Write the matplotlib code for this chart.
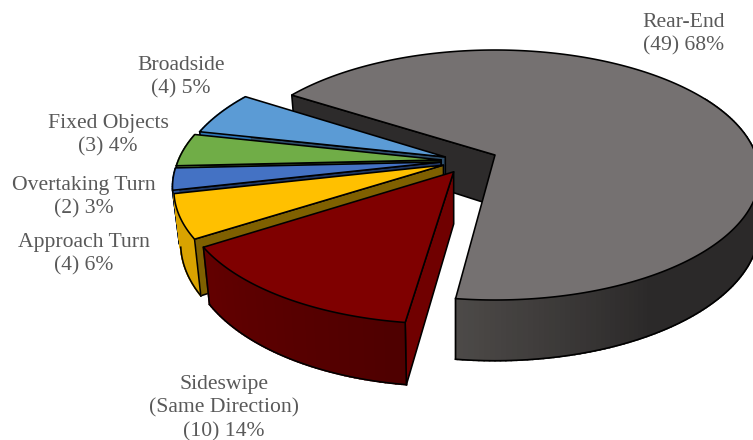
import numpy as np
import matplotlib
matplotlib.use("Agg")
import matplotlib.pyplot as plt
from matplotlib.colors import to_rgb

# ---- data, in drawing order round the pie (clockwise)
categories = ["Rear-End", "Sideswipe\n(Same Direction)", "Approach Turn",
              "Overtaking Turn", "Fixed Objects", "Broadside"]
counts = [49, 10, 4, 2, 3, 4]
percents = [68, 14, 6, 3, 4, 5]

# ---- styling
top_colors = ["#757171", "#7F0000", "#FFC000", "#4472C4", "#70AD47", "#5B9BD5"]
edge_colors = ["#2D2B2B", "#700000", "#7F6000", "#203864", "#385723", "#2E4E6B"]
wall_near = ["#4D4A48", "#4E0000", "#D9A300", "#2F5597", "#548235", "#2E75B6"]
wall_far = ["#2B2929", "#630000", "#D9A300", "#2F5597", "#548235", "#2E75B6"]
wall_span = [38, 50, 1, 1, 1, 1]

# ---- layout (pixel space of the projection)
CX, CY = 495.0, 155.0
SCALE_X, SCALE_Y, PERSP = 261.0, 121.8, 0.16
DEPTH = 51.0
START_ANGLE = -57.7
offsets = [(0.0, 0.0), (-0.155, -0.135), (-0.195, -0.082),
           (-0.205, -0.057), (-0.205, -0.04), (-0.19, -0.016)]
label_pos = [(684, 34), (224, 408), (84, 254), (84, 197), (108, 135), (181, 77)]
draw_order = [0, 5, 4, 3, 2, 1]


def project(X, Y, down=False):
    X, Y = np.asarray(X, float), np.asarray(Y, float)
    s = 1.0 / (1.0 + PERSP * Y)
    px = CX + X * SCALE_X * s
    py = CY - Y * SCALE_Y * s
    if down:
        px = px + 0.024 * np.maximum(0.0, 456.0 - px)
        py = py + DEPTH * s
    return px, py


def rim(theta_deg, off):
    t = np.radians(theta_deg)
    return np.sin(t) + off[0], np.cos(t) + off[1]


fig = plt.figure(figsize=(7.53, 4.40), dpi=100)
ax = fig.add_axes([0, 0, 1, 1])
ax.set_xlim(0, 753)
ax.set_ylim(440, 0)
ax.axis("off")

sweeps = 360.0 * np.array(counts) / sum(counts)
starts = START_ANGLE + np.concatenate([[0.0], np.cumsum(sweeps)[:-1]])
LW = 1.15
z = 1.0

for i in draw_order:
    a0, a1 = starts[i], starts[i] + sweeps[i]
    off = offsets[i]
    ax0, ay0 = project(off[0], off[1])
    bx0, by0 = project(off[0], off[1], True)

    # radial wall at the slice's near edge
    rx, ry = rim(a0, off)
    tx, ty = project(rx, ry)
    dx, dy = project(rx, ry, True)
    ax.fill([ax0, tx, dx, bx0], [ay0, ty, dy, by0], facecolor=edge_colors[i],
            edgecolor="black", lw=LW, joinstyle="round", zorder=z)
    z += 1

    # outer wall as shaded strips
    lo = 60.0 if i == 0 else a0
    grid = np.arange(lo, a1, 1.0)
    grid = np.append(grid, a1)
    near_angle = a1 if i == 0 else a0
    cn, cf = np.array(to_rgb(wall_near[i])), np.array(to_rgb(wall_far[i]))
    for u, v in zip(grid[:-1], grid[1:]):
        f = min(1.0, abs(0.5 * (u + v) - near_angle) / wall_span[i])
        col = cn + (cf - cn) * f
        xu, yu = rim(u, off)
        xv, yv = rim(v, off)
        p1, p2 = project(xu, yu), project(xv, yv)
        q1, q2 = project(xu, yu, True), project(xv, yv, True)
        ax.fill([p1[0], p2[0], q2[0], q1[0]], [p1[1], p2[1], q2[1], q1[1]],
                facecolor=col, edgecolor=col, lw=1.2, zorder=z)
    z += 1
    xr, yr = rim(grid, off)
    bxs, bys = project(xr, yr, True)
    ax.plot(bxs, bys, color="black", lw=LW, zorder=z)
    # vertical edge of the outer wall nearest the viewer
    xe, ye = rim(a1 if i == 0 else a0, off)
    pe, qe = project(xe, ye), project(xe, ye, True)
    ax.plot([pe[0], qe[0]], [pe[1], qe[1]], color="black", lw=LW, zorder=z)
    if i == 1:
        xe, ye = rim(a1, off)
        pe, qe = project(xe, ye), project(xe, ye, True)
        ax.plot([pe[0], qe[0]], [pe[1], qe[1]], color="black", lw=LW, zorder=z)
    z += 1

    # top face
    ang = np.linspace(a0, a1, max(int(sweeps[i]) * 2, 8))
    xr, yr = rim(ang, off)
    px, py = project(xr, yr)
    ax.fill(np.r_[ax0, px], np.r_[ay0, py], facecolor=top_colors[i],
            edgecolor="black", lw=LW, joinstyle="round", zorder=z)
    z += 1

for name, n, pct, (lx, ly) in zip(categories, counts, percents, label_pos):
    ax.text(lx, ly, f"{name}\n({n}) {pct}%", ha="center", va="center",
            family=["Liberation Serif", "DejaVu Serif"], fontsize=15.6,
            color="#595959", linespacing=1.31, zorder=z)

fig.savefig("out.png", dpi=100)
